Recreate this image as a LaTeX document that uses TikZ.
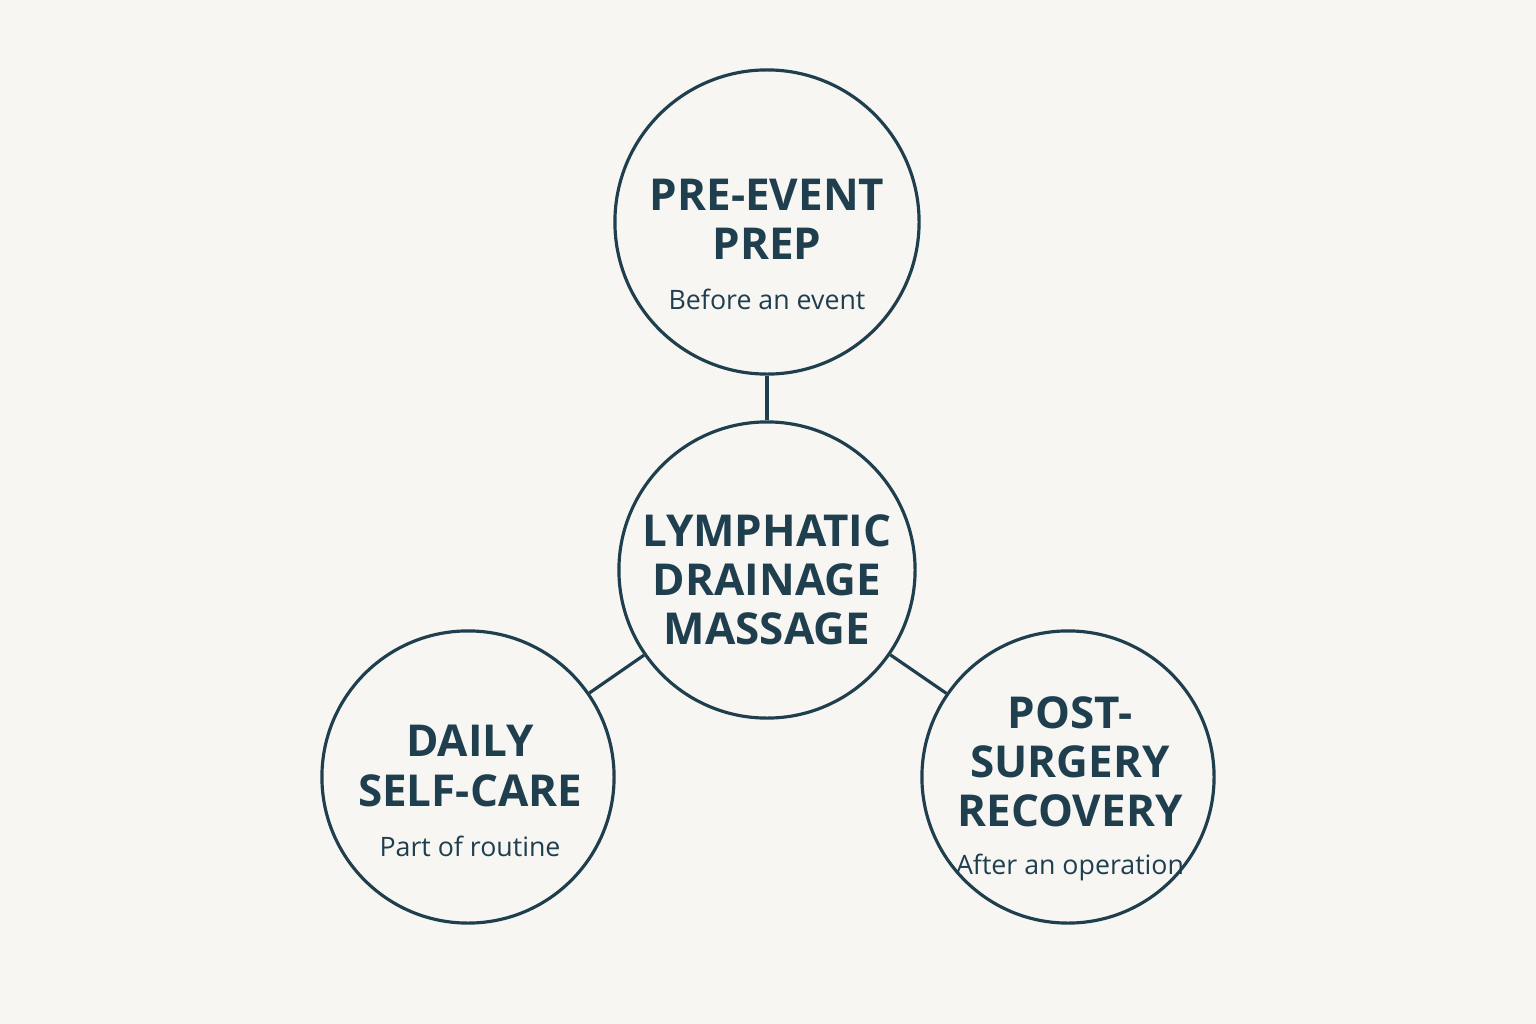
\documentclass[tikz,border=0pt]{standalone}
\usepackage{fontspec}
\setmainfont{Open Sans}
\usetikzlibrary{positioning}
\definecolor{ink}{HTML}{1F3F4E}
\definecolor{paper}{HTML}{F7F6F2}
\begin{document}
\begin{tikzpicture}[x=0.01cm,y=-0.01cm,
    hub/.style={circle, draw=ink, line width=0.9pt, minimum size=2.96cm, inner sep=0pt},
    spoke/.style={circle, draw=ink, line width=0.9pt, minimum size=2.96cm, inner sep=0pt},
    link/.style={draw=ink, line width=0.9pt},
    title/.style={text=ink, font=\fontsize{12.5}{14}\selectfont\bfseries, align=center},
    note/.style={text=ink, font=\fontsize{7.6}{9}\selectfont, align=center}
]
    \fill[paper] (0,0) rectangle (1536,1024);
    \useasboundingbox (0,0) rectangle (1536,1024);
    % circles
    \node[hub] (lymph) at (767,570) {};
    \node[spoke, minimum size=3.04cm] (prep) at (767,222) {};
    \node[spoke, minimum size=2.92cm] (daily) at (468,777) {};
    \node[spoke, minimum size=2.92cm] (post) at (1068,777) {};
    % texts
    \node[title] (lymphT) at (767,580) {LYMPHATIC\\DRAINAGE\\MASSAGE};
    \node[title] (prepT) at (767,219) {PRE-EVENT\\PREP};
    \node[note, below=0.05cm of prepT] (prepN) {Before an event};
    \node[title] (dailyT) at (470,766) {DAILY\\SELF-CARE};
    \node[note, below=0.05cm of dailyT] (dailyN) {Part of routine};
    \node[title] (postT) at (1070,762) {POST-\\SURGERY\\RECOVERY};
    \node[note, below=0.02cm of postT] (postN) {After an operation};
    % links
    \draw[link] (prep) -- (lymph);
    \draw[link] (lymph) -- (daily);
    \draw[link] (lymph) -- (post);
\end{tikzpicture}
\end{document}
